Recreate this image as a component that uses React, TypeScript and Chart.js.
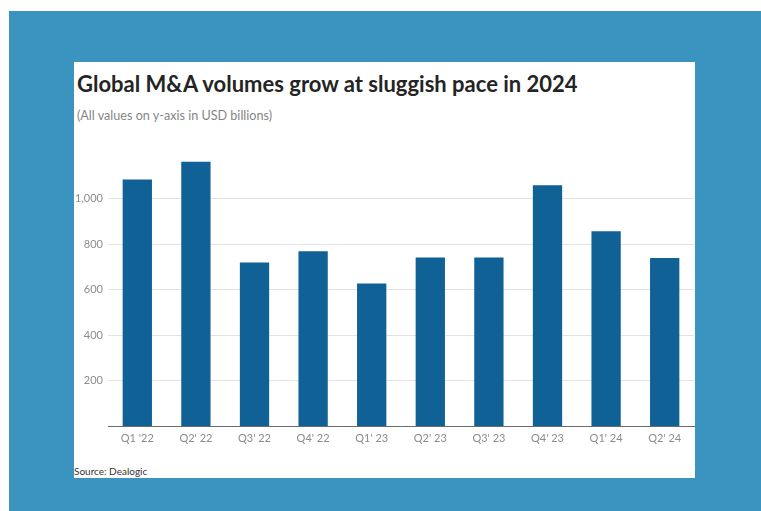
import React, { useEffect, useRef } from "react";
import { Chart, registerables } from "chart.js";

Chart.register(...registerables);

const categories = ["Q1 '22", "Q2' 22", "Q3' 22", "Q4' 22", "Q1' 23", "Q2' 23", "Q3' 23", "Q4' 23", "Q1' 24", "Q2' 24"];
const volumes = [1083, 1161, 719, 768, 626, 741, 741, 1058, 856, 739];
const yTicks = [200, 400, 600, 800, 1000];
const yMax = 1200;

const FONT = "Lato, 'Open Sans', sans-serif";

export default function App() {
  const ref = useRef<HTMLCanvasElement | null>(null);

  useEffect(() => {
    const canvas = ref.current;
    if (!canvas) return;
    const chart = new Chart(canvas, {
      type: "bar",
      data: {
        labels: categories,
        datasets: [
          {
            data: volumes,
            backgroundColor: "#0f6196",
            borderWidth: 0,
            barPercentage: 0.5,
            categoryPercentage: 1,
          },
        ],
      },
      options: {
        animation: false,
        responsive: false,
        maintainAspectRatio: false,
        events: [],
        layout: { padding: { top: 13, right: 1, left: 0, bottom: 0 } },
        plugins: {
          legend: { display: false },
          tooltip: { enabled: false },
          title: { display: false },
        },
        scales: {
          x: {
            grid: { display: false, drawTicks: false },
            border: { display: true, color: "#6a6a6a", width: 1 },
            ticks: {
              color: "#8c8c8c",
              font: { family: FONT, size: 11 },
              padding: 6,
              maxRotation: 0,
              autoSkip: false,
            },
            afterFit: (s: any) => {
              s.height = 34;
            },
          },
          y: {
            min: 0,
            max: yMax,
            grid: { color: "#e2e2e2", lineWidth: 1, drawTicks: false },
            border: { display: false },
            ticks: {
              color: "#8c8c8c",
              font: { family: FONT, size: 11 },
              padding: 5,
            },
            afterBuildTicks: (s: any) => {
              s.ticks = yTicks.map((v) => ({ value: v }));
            },
            afterFit: (s: any) => {
              s.width = 34;
            },
          },
        },
      },
    });
    return () => chart.destroy();
  }, []);

  return (
    <div
      style={{
        position: "fixed",
        left: 0,
        top: 0,
        width: "100vw",
        height: "100vh",
        background: "#ffffff",
        overflow: "hidden",
      }}
    >
      <div
        style={{
          position: "absolute",
          left: 9,
          top: 11,
          width: 1000,
          height: 800,
          background: "#3a94bf",
        }}
      />
      <div
        style={{
          position: "absolute",
          left: 74,
          top: 62,
          width: 621,
          height: 416,
          background: "#ffffff",
        }}
      >
        <div
          style={{
            position: "absolute",
            left: 3,
            top: 8,
            fontFamily: FONT,
            fontWeight: 700,
            fontSize: 22,
            color: "#242424",
            whiteSpace: "nowrap",
            lineHeight: "28px",
          }}
        >
          Global M&amp;A volumes grow at sluggish pace in 2024
        </div>
        <div
          style={{
            position: "absolute",
            left: 3,
            top: 46,
            fontFamily: FONT,
            fontWeight: 400,
            fontSize: 12.6,
            color: "#858585",
            whiteSpace: "nowrap",
            lineHeight: "16px",
          }}
        >
          (All values on y-axis in USD billions)
        </div>
        <canvas
          ref={ref}
          width={621}
          height={320}
          style={{ position: "absolute", left: 0, top: 78, width: 621, height: 320 }}
        />
        <div
          style={{
            position: "absolute",
            left: 0,
            top: 402,
            fontFamily: FONT,
            fontSize: 10,
            color: "#333333",
            whiteSpace: "nowrap",
            lineHeight: "14px",
          }}
        >
          Source: Dealogic
        </div>
      </div>
    </div>
  );
}
